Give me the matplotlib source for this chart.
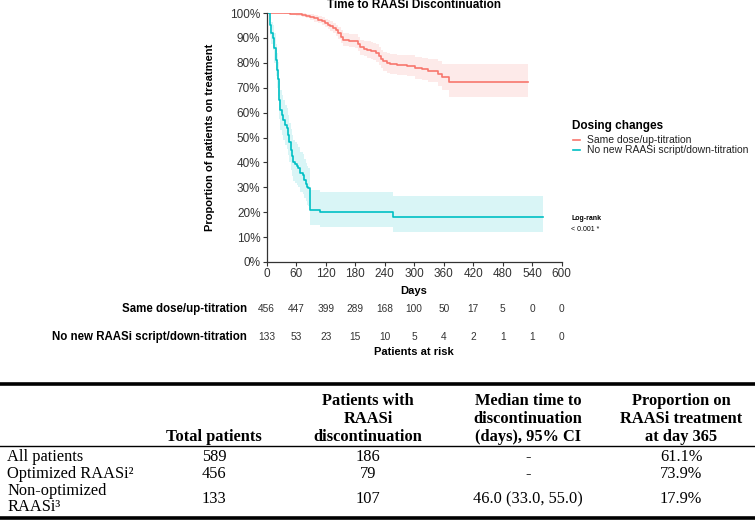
import matplotlib.pyplot as plt
import numpy as np
from matplotlib.lines import Line2D
import matplotlib.transforms as mtransforms

plt.rcParams['font.family'] = ['Liberation Sans', 'DejaVu Sans']

# Kaplan-Meier steps (days, proportion on treatment, 95% CI)
same_t = [0, 35, 48, 60, 71, 80, 88, 96, 105, 112,
          118, 124, 129, 134, 140, 146, 151, 156, 168, 180,
          186, 190, 198, 205, 212, 217, 222, 228, 233, 237,
          244, 250, 264, 285, 301, 315, 328, 349, 356, 371, 531]
same_s = [1.0, .998, .996, .994, .992, .988, .983, .978, .973, .966,
          .96, .953, .947, .94, .93, .92, .905, .893, .889, .886,
          .875, .862, .857, .853, .849, .846, .838, .826, .815, .806,
          .798, .794, .79, .787, .778, .774, .768, .755, .742, .724, .724]
same_lo = [1.0, .994, .99, .987, .984, .978, .972, .965, .958, .95,
           .942, .934, .927, .919, .908, .896, .88, .867, .862, .858,
           .846, .832, .826, .821, .816, .812, .803, .79, .778, .768,
           .759, .754, .749, .745, .734, .729, .721, .705, .69, .663, .663]
same_hi = [1.0, 1.0, 1.0, 1.0, 1.0, .997, .994, .99, .988, .982,
           .977, .972, .967, .961, .952, .943, .93, .92, .916, .914,
           .904, .893, .889, .886, .883, .881, .874, .863, .853, .845,
           .838, .835, .832, .83, .823, .82, .816, .806, .797, .795, .795]

nonopt_t = [0, 7, 9, 12, 15, 18, 20, 22, 24, 26,
            28, 31, 34, 38, 41, 43, 46, 49, 52, 54,
            58, 61, 64, 68, 73, 76, 79, 81, 85, 88,
            108, 257, 561]
nonopt_s = [1.0, .95, .92, .90, .86, .81, .77, .735, .70, .65,
            .61, .59, .57, .55, .537, .51, .48, .45, .425, .403,
            .395, .385, .376, .356, .35, .33, .315, .302, .296, .209,
            .20, .179, .179]
nonopt_lo = [1.0, .91, .875, .85, .80, .745, .70, .665, .625, .575,
             .53, .51, .49, .47, .455, .43, .40, .37, .345, .325,
             .318, .308, .30, .28, .275, .256, .243, .23, .225, .15,
             .142, .122, .122]
nonopt_hi = [1.0, .985, .965, .95, .92, .875, .84, .805, .775, .725,
             .69, .67, .65, .63, .62, .59, .56, .535, .51, .49,
             .482, .472, .462, .44, .434, .413, .398, .385, .378, .29,
             .28, .267, .267]

groups = ['Same dose/up-titration', 'No new RAASi script/down-titration']
colors = ['#F8766D', '#00BFC4']

risk_days = [0, 60, 120, 180, 240, 300, 360, 420, 480, 540, 600]
risk_same = [456, 447, 399, 289, 168, 100, 50, 17, 5, 0, 0]
risk_nonopt = [133, 53, 23, 15, 10, 5, 4, 2, 1, 1, 0]

col_headers = ['', 'Total patients', 'Patients with\nRAASi\ndiscontinuation',
               'Median time to\ndiscontinuation\n(days), 95% CI',
               'Proportion on\nRAASi treatment\nat day 365']
row_labels = ['All patients', 'Optimized RAASi²', 'Non-optimized\nRAASi³']
total_patients = ['589', '456', '133']
discontinued = ['186', '79', '107']
median_time = ['-', '-', '46.0 (33.0, 55.0)']
prop_365 = ['61.1%', '73.9%', '17.9%']

W, H = 755, 522
fig = plt.figure(figsize=(W / 100, H / 100), dpi=100)


def fx(x):
    return x / W


def fy(y):
    return 1 - y / H


ax = fig.add_axes([fx(266.7), fy(262), 295 / W, 249 / H])

curves = [(same_t, same_s, same_lo, same_hi), (nonopt_t, nonopt_s, nonopt_lo, nonopt_hi)]
for (t, s, lo, hi), c, g in zip(curves, colors, groups):
    ax.fill_between(t, lo, hi, step='post', color=c, alpha=0.15, linewidth=0)
    ax.step(t, s, where='post', color=c, lw=1.2, label=g)

ax.set_xlim(0, 600)
ax.set_ylim(0, 1)
ax.set_xticks(risk_days)
ax.set_yticks(np.arange(0, 1.01, 0.1))
ax.set_yticklabels([f'{int(round(v * 100))}%' for v in np.arange(0, 1.01, 0.1)])
for sp in ['top', 'right']:
    ax.spines[sp].set_visible(False)
for sp in ['left', 'bottom']:
    ax.spines[sp].set_color('#333333')
    ax.spines[sp].set_linewidth(0.9)
ax.tick_params(length=3, width=0.8, color='#333333', labelsize=8.5,
               labelcolor='#333333', pad=1.5)

fig.text(fx(414), fy(4.5), 'Time to RAASi Discontinuation', ha='center', va='center',
         fontsize=8.5, fontweight='bold')
fig.text(fx(210), fy(137), 'Proportion of patients on treatment', rotation=90,
         ha='center', va='center', fontsize=8, fontweight='bold')
fig.text(fx(414), fy(291), 'Days', ha='center', va='center', fontsize=8, fontweight='bold')

# legend
fig.text(fx(572), fy(126), 'Dosing changes', ha='left', va='center', fontsize=8.5, fontweight='bold')
for i, (g, c) in enumerate(zip(groups, colors)):
    yy = 140.5 + i * 9.5
    fig.add_artist(Line2D([fx(573), fx(580)], [fy(yy), fy(yy)], color=c, lw=1.2))
    fig.text(fx(587), fy(yy), g, ha='left', va='center', fontsize=7.5, color='#222222')

fig.text(fx(571), fy(219), 'Log-rank', ha='left', va='center', fontsize=5, fontweight='bold')
fig.text(fx(571), fy(230), '< 0.001 *', ha='left', va='center', fontsize=5)

# risk table
trans = mtransforms.blended_transform_factory(ax.transData, fig.transFigure)
for yy, lab, vals in [(309, groups[0], risk_same), (337, groups[1], risk_nonopt)]:
    fig.text(fx(247), fy(yy), lab, ha='right', va='center', fontsize=8.3, fontweight='bold')
    for d, v in zip(risk_days, vals):
        ax.text(d, fy(yy), str(v), transform=trans, ha='center', va='center',
                fontsize=7.3, color='#333333', clip_on=False)
fig.text(fx(414), fy(352), 'Patients at risk', ha='center', va='center', fontsize=8, fontweight='bold')

# summary table
serif = ['Liberation Serif', 'DejaVu Serif']
fig.add_artist(Line2D([0, 1], [fy(384), fy(384)], color='black', lw=2.6))
fig.add_artist(Line2D([0, 1], [fy(446), fy(446)], color='black', lw=1.0))
fig.add_artist(Line2D([0, 1], [fy(518), fy(518)], color='black', lw=2.6))

col_x = [7, 214, 368, 528, 681]
for x, h in zip(col_x[1:], col_headers[1:]):
    fig.text(fx(x), fy(441), h, ha='center', va='baseline', fontsize=11.8,
             fontweight='bold', family=serif, linespacing=1.15)

row_y = [457, 474, 499]
cols = [total_patients, discontinued, median_time, prop_365]
for r, (yy, lab) in enumerate(zip(row_y, row_labels)):
    fig.text(fx(col_x[0]), fy(yy), lab, ha='left', va='center', fontsize=11.8,
             family=serif, linespacing=1.05)
    for x, vals in zip(col_x[1:], cols):
        fig.text(fx(x), fy(yy), vals[r], ha='center', va='center', fontsize=11.8, family=serif)

fig.savefig('out.png', dpi=100)
